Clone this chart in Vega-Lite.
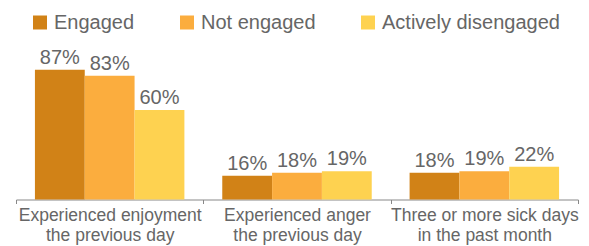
{
  "$schema": "https://vega.github.io/schema/vega-lite/v6.json",
  "autosize": "none",
  "width": 562,
  "height": 149,
  "padding": {"left": 16, "top": 50.5, "right": 11, "bottom": 46.5},
  "background": "white",
  "config": {
    "font": "Liberation Sans",
    "view": {"stroke": null}
  },
  "data": {
    "values": [
      {"category": "Experienced enjoyment|the previous day", "group": "Engaged", "value": 0.87},
      {"category": "Experienced enjoyment|the previous day", "group": "Not engaged", "value": 0.83},
      {"category": "Experienced enjoyment|the previous day", "group": "Actively disengaged", "value": 0.60},
      {"category": "Experienced anger|the previous day", "group": "Engaged", "value": 0.16},
      {"category": "Experienced anger|the previous day", "group": "Not engaged", "value": 0.18},
      {"category": "Experienced anger|the previous day", "group": "Actively disengaged", "value": 0.19},
      {"category": "Three or more sick days|in the past month", "group": "Engaged", "value": 0.18},
      {"category": "Three or more sick days|in the past month", "group": "Not engaged", "value": 0.19},
      {"category": "Three or more sick days|in the past month", "group": "Actively disengaged", "value": 0.22}
    ]
  },
  "encoding": {
    "x": {
      "field": "category",
      "type": "nominal",
      "sort": null,
      "scale": {"paddingInner": 0, "paddingOuter": 0},
      "axis": {
        "title": null,
        "labelAngle": 0,
        "labelExpr": "split(datum.label, '|')",
        "labelFontSize": 17.5,
        "labelColor": "#666666",
        "labelLineHeight": 19.5,
        "labelPadding": 3,
        "labelBaseline": "top",
        "labelLimit": 0,
        "tickBand": "extent",
        "tickSize": 4,
        "tickColor": "#888888",
        "domainColor": "#888888",
        "domainWidth": 1
      }
    },
    "xOffset": {
      "field": "group",
      "type": "nominal",
      "sort": ["Engaged", "Not engaged", "Actively disengaged"],
      "scale": {"paddingInner": 0, "paddingOuter": 0.38}
    },
    "y": {
      "field": "value",
      "type": "quantitative",
      "scale": {"domain": [0, 1]},
      "axis": null
    }
  },
  "layer": [
    {
      "mark": {"type": "bar"},
      "encoding": {
        "color": {
          "field": "group",
          "type": "nominal",
          "sort": ["Engaged", "Not engaged", "Actively disengaged"],
          "scale": {
            "domain": ["Engaged", "Not engaged", "Actively disengaged"],
            "range": ["#D18217", "#FBAD3E", "#FED250"]
          },
          "legend": {
            "title": null,
            "orient": "none",
            "direction": "horizontal",
            "legendX": 14,
            "legendY": -38,
            "symbolType": "square",
            "symbolSize": 196,
            "symbolStrokeWidth": 0,
            "symbolOpacity": 1,
            "labelFontSize": 20,
            "labelColor": "#666666",
            "labelOffset": 4,
            "labelLimit": 0,
            "columnPadding": 42
          }
        }
      }
    },
    {
      "mark": {"type": "text", "baseline": "alphabetic", "dy": -6, "fontSize": 20, "color": "#666666"},
      "encoding": {
        "text": {"field": "value", "type": "quantitative", "format": ".0%"}
      }
    }
  ]
}
